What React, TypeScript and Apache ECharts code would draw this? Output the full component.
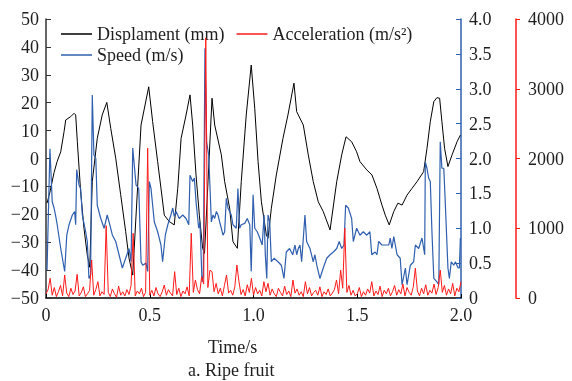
import React, { useEffect, useRef } from "react";
import * as echarts from "echarts";

// Displacement (mm) vs time (s)
const dispTime = [
  0.005, 0.019, 0.039, 0.054, 0.071, 0.087, 0.095, 0.119, 0.135, 0.143, 0.151, 0.167, 0.183, 0.199,
  0.211, 0.223, 0.247, 0.271, 0.293, 0.312, 0.336, 0.36, 0.384, 0.4, 0.418, 0.458, 0.495, 0.514,
  0.538, 0.554, 0.57, 0.594, 0.618, 0.635, 0.651, 0.675, 0.694, 0.707, 0.723, 0.739, 0.755, 0.764,
  0.781, 0.8, 0.813, 0.845, 0.861, 0.885, 0.901, 0.922, 0.941, 0.965, 0.989, 1.006, 1.022, 1.038,
  1.062, 1.07, 1.086, 1.11, 1.142, 1.166, 1.195, 1.208, 1.24, 1.264, 1.288, 1.312, 1.336, 1.369,
  1.401, 1.425, 1.446, 1.473, 1.497, 1.513, 1.546, 1.571, 1.595, 1.619, 1.635, 1.654, 1.676, 1.696,
  1.716, 1.74, 1.764, 1.788, 1.82, 1.836, 1.852, 1.869, 1.884, 1.897, 1.908, 1.921, 1.937, 1.957,
  1.981, 1.997,
];
const dispValue = [
  -16, -12, -5, -1, 2.4, 9.6, 13.8, 15, 16.2, 15.6, 6, -11.9, -25, -34.6,
  -39, -8.3, 7.2, 15.6, 20.1, 10.8, 0.1, -13, -26.2, -35.7, -41.8, 12, 25.7, 13.2,
  -1.1, -10.6, -20.3, -22.6, -23.8, -10.7, 7.2, 15.6, 22.8, 12, -5.9, -20.3, -32.2, -34,
  -8, 21.6, 12, 1.3, -8.3, -17.8, -29.8, -32.2, -8.3, 15.6, 33.5, 18, -1.1, -15.5,
  -27.4, -28.6, -17.8, -5.9, 7.2, 15.6, 27, 16.8, 12, 1.3, -8.3, -15.5, -19, -25.6,
  -8.3, 1.3, 7.8, 6, 2.4, -1.1, -4.1, -5.9, -10.7, -16.7, -20.3, -23.8, -19, -16,
  -16.7, -13.1, -10.7, -8.3, -4.7, 3.6, 13.2, 20.4, 21.8, 21.6, 13.2, 3.6, -2.9, 1.3,
  6, 8.4,
];

// Speed (m/s) vs time (s)
const speedTime = [
  0.005, 0.019, 0.03, 0.039, 0.047, 0.054, 0.071, 0.09, 0.1, 0.111, 0.127, 0.138, 0.143, 0.148,
  0.159, 0.167, 0.175, 0.191, 0.199, 0.207, 0.215, 0.223, 0.231, 0.24, 0.247, 0.264, 0.28, 0.295,
  0.304, 0.32, 0.336, 0.352, 0.368, 0.384, 0.4, 0.405, 0.41, 0.418, 0.434, 0.447, 0.458, 0.466,
  0.482, 0.49, 0.498, 0.506, 0.522, 0.538, 0.554, 0.562, 0.575, 0.587, 0.602, 0.611, 0.618, 0.627,
  0.642, 0.659, 0.675, 0.688, 0.694, 0.707, 0.715, 0.723, 0.736, 0.742, 0.752, 0.758, 0.766, 0.774,
  0.784, 0.797, 0.805, 0.813, 0.821, 0.829, 0.837, 0.845, 0.853, 0.861, 0.869, 0.877, 0.885, 0.893,
  0.901, 0.917, 0.925, 0.933, 0.941, 0.958, 0.97, 0.982, 0.989, 0.998, 1.006, 1.018, 1.03, 1.042,
  1.051, 1.057, 1.064, 1.07, 1.078, 1.086, 1.099, 1.118, 1.134, 1.147, 1.158, 1.174, 1.189, 1.2,
  1.208, 1.216, 1.224, 1.232, 1.248, 1.256, 1.272, 1.288, 1.296, 1.305, 1.32, 1.336, 1.353, 1.369,
  1.385, 1.401, 1.413, 1.425, 1.436, 1.444, 1.457, 1.473, 1.481, 1.497, 1.513, 1.529, 1.546, 1.561,
  1.57, 1.586, 1.595, 1.603, 1.619, 1.635, 1.652, 1.659, 1.667, 1.676, 1.692, 1.707, 1.716, 1.732,
  1.74, 1.756, 1.772, 1.78, 1.796, 1.812, 1.825, 1.828, 1.836, 1.844, 1.852, 1.86, 1.869, 1.884,
  1.893, 1.9, 1.908, 1.917, 1.924, 1.937, 1.944, 1.953, 1.965, 1.973, 1.986, 1.992, 1.997,
];
const speedValue = [
  0.4, 2.14, 1.38, 1.29, 1.17, 1.05, 0.71, 0.38, 0.9, 1.05, 1.19, 1.24, 1.05, 1.84,
  1.62, 1.57, 1.19, 0.95, 0.81, 0.28, 0.33, 2.91, 2.05, 2.0, 1.33, 1.14, 1.0, 1.19,
  1.09, 0.9, 0.81, 0.62, 0.43, 0.57, 0.71, 0.62, 0.52, 2.15, 1.62, 1.57, 0.52, 0.47,
  0.5, 0.38, 1.67, 1.57, 1.09, 0.95, 0.76, 0.52, 0.9, 1.05, 1.19, 1.29, 1.17, 1.24,
  1.14, 1.19, 1.14, 1.05, 1.76, 1.67, 1.72, 1.38, 1.0, 1.09, 0.23, 0.33, 3.58, 2.24,
  2.05, 1.09, 1.19, 1.14, 1.24, 1.19, 1.09, 1.0, 0.9, 0.95, 1.43, 1.29, 1.24, 1.19,
  1.05, 1.0, 1.57, 1.0, 1.05, 1.07, 1.14, 1.05, 0.38, 1.48, 1.0, 0.95, 0.86, 0.76,
  1.19, 0.62, 0.28, 1.19, 1.09, 0.52, 0.57, 0.52, 0.47, 0.28, 0.66, 0.71, 0.62, 0.76,
  0.62, 0.71, 0.76, 0.52, 1.19, 0.81, 0.71, 0.52, 0.62, 0.47, 0.28, 0.43, 0.57, 0.62,
  0.66, 0.71, 0.81, 0.71, 0.76, 1.33, 1.29, 1.14, 0.81, 1.0, 0.9, 0.95, 0.9, 0.95,
  0.62, 0.66, 0.62, 0.81, 0.76, 0.76, 0.76, 0.86, 0.71, 0.88, 0.62, 0.57, 0.19, 0.43,
  0.19, 0.47, 0.52, 0.76, 0.71, 0.86, 0.62, 1.95, 1.86, 1.72, 1.67, 0.95, 0.28, 0.23,
  0.19, 2.24, 1.86, 1.86, 1.38, 0.43, 0.28, 0.52, 0.47, 0.52, 0.43, 0.43, 0.86,
];

// Acceleration (m/s²), sampled every accStep seconds from t = 0
const accStep = 0.01;
const accValue = [
  60, 120, 282, 40, 150, 20, 90, 180, 30, 330,
  70, 20, 140, 50, 100, 340, 30, 80, 160, 20,
  60, 110, 545, 40, 120, 234, 30, 90, 50, 1037,
  80, 20, 130, 60, 10, 170, 40, 90, 30, 120,
  50, 180, 928, 30, 100, 60, 140, 20, 80, 2147,
  40, 110, 30, 150, 60, 20, 90, 186, 40, 120,
  70, 30, 377, 50, 140, 20, 100, 60, 160, 30,
  928, 80, 258, 120, 60, 305, 200, 3730, 150, 400,
  377, 90, 210, 60, 140, 30, 180, 330, 70, 110,
  40, 160, 473, 234, 50, 120, 30, 190, 80, 282,
  40, 150, 60, 110, 30, 234, 90, 211, 40, 130,
  60, 20, 140, 80, 30, 170, 50, 100, 20, 258,
  70, 130, 40, 90, 20, 234, 60, 150, 30, 80,
  110, 40, 160, 20, 90, 50, 130, 30, 70, 120,
  258, 60, 400, 140, 1000, 80, 180, 40, 110, 30,
  60, 150, 20, 90, 40, 130, 70, 234, 30, 100,
  50, 170, 20, 110, 60, 140, 30, 90, 180, 40,
  120, 60, 200, 30, 150, 80, 40, 160, 426, 100,
  30, 140, 60, 190, 40, 110, 70, 200, 50, 150,
  400, 80, 180, 40, 130, 60, 210, 30, 140, 90,
  234,
];

const xTicks = { min: 0, max: 2, interval: 0.5 };
const dispAxis = { min: -50, max: 50, interval: 10 };
const speedAxis = { min: 0, max: 4, interval: 0.5 };
const accAxis = { min: 0, max: 4000, interval: 1000 };

const seriesNames = ["Displament (mm)", "Acceleration (m/s\u00B2)", "Speed (m/s)"];
const xTitle = "Time/s";
const caption = "a. Ripe fruit";

const FONT = "Liberation Serif";
const BLACK = "#000000";
const BLUE = "#2f5fae";
const RED = "#ff1a1a";
const TEXT = "#1e1e1e";

export default function App() {
  const ref = useRef<HTMLDivElement>(null);
  useEffect(() => {
    if (!ref.current) return;
    const chart = echarts.init(ref.current, null, { renderer: "svg" });
    const fmtOne = (v: number) => (v === 0 ? "0" : v.toFixed(1));
    const fmtMinus = (v: number) => (v < 0 ? "\u2212" + Math.abs(v) : String(v));
    const fmtPlain = (v: number) => String(v);
    chart.setOption({
      animation: false,
      grid: { left: 46, right: 111, top: 19, bottom: 83, containLabel: false },
      legend: [
        {
          data: [seriesNames[0], seriesNames[1]],
          left: 56,
          top: 20,
          icon: "rect",
          itemWidth: 31,
          itemHeight: 1.5,
          itemGap: 12,
          textStyle: { fontFamily: FONT, fontSize: 18, color: TEXT },
        },
        {
          data: [seriesNames[2]],
          left: 56,
          top: 41,
          icon: "rect",
          itemWidth: 31,
          itemHeight: 1.5,
          textStyle: { fontFamily: FONT, fontSize: 18, color: TEXT },
        },
      ],
      xAxis: {
        type: "value",
        min: xTicks.min,
        max: xTicks.max,
        interval: xTicks.interval,
        axisLine: { show: true, onZero: false, lineStyle: { color: BLACK, width: 1.5 } },
        axisTick: { show: true, inside: true, length: 4, lineStyle: { color: BLACK } },
        axisLabel: { fontFamily: FONT, fontSize: 18, color: TEXT, margin: 8, formatter: fmtOne },
        splitLine: { show: false },
      },
      yAxis: [
        {
          type: "value",
          position: "left",
          min: dispAxis.min,
          max: dispAxis.max,
          interval: dispAxis.interval,
          axisLine: { show: true, onZero: false, lineStyle: { color: "#333", width: 1.5 } },
          axisTick: { show: true, inside: true, length: 5, lineStyle: { color: "#333" } },
          axisLabel: { fontFamily: FONT, fontSize: 18, color: TEXT, margin: 7, formatter: fmtMinus },
          splitLine: { show: false },
        },
        {
          type: "value",
          position: "right",
          min: speedAxis.min,
          max: speedAxis.max,
          interval: speedAxis.interval,
          axisLine: { show: true, onZero: false, lineStyle: { color: BLUE, width: 1.5 } },
          axisTick: { show: true, inside: true, length: 5, lineStyle: { color: BLUE } },
          axisLabel: { fontFamily: FONT, fontSize: 18, color: TEXT, margin: 8, formatter: fmtOne },
          splitLine: { show: false },
        },
        {
          type: "value",
          position: "right",
          offset: 55,
          min: accAxis.min,
          max: accAxis.max,
          interval: accAxis.interval,
          axisLine: { show: true, onZero: false, lineStyle: { color: RED, width: 1.5 } },
          axisTick: { show: true, inside: false, length: 4, lineStyle: { color: RED } },
          axisLabel: { fontFamily: FONT, fontSize: 18, color: TEXT, margin: 12, formatter: fmtPlain },
          splitLine: { show: false },
        },
      ],
      graphic: [
        {
          type: "text",
          left: 208,
          top: 338,
          style: { text: xTitle, fontFamily: FONT, fontSize: 18, fill: TEXT },
        },
        {
          type: "text",
          left: 188,
          top: 361,
          style: { text: caption, fontFamily: FONT, fontSize: 18, fill: TEXT },
        },
      ],
      series: [
        {
          name: seriesNames[0],
          type: "line",
          yAxisIndex: 0,
          showSymbol: false,
          symbol: "none",
          color: BLACK,
          lineStyle: { color: BLACK, width: 1 },
          data: dispTime.map((t, i) => [t, dispValue[i]]),
          z: 2,
        },
        {
          name: seriesNames[2],
          type: "line",
          yAxisIndex: 1,
          showSymbol: false,
          symbol: "none",
          color: BLUE,
          lineStyle: { color: BLUE, width: 1.2 },
          data: speedTime.map((t, i) => [t, speedValue[i]]),
          z: 3,
        },
        {
          name: seriesNames[1],
          type: "line",
          yAxisIndex: 2,
          showSymbol: false,
          symbol: "none",
          color: RED,
          lineStyle: { color: RED, width: 1 },
          data: accValue.map((v, i) => [+(i * accStep).toFixed(3), v]),
          z: 4,
        },
      ],
    });
    return () => chart.dispose();
  }, []);
  return <div ref={ref} style={{ position: "fixed", left: 0, top: 0, width: 572, height: 381 }} />;
}
